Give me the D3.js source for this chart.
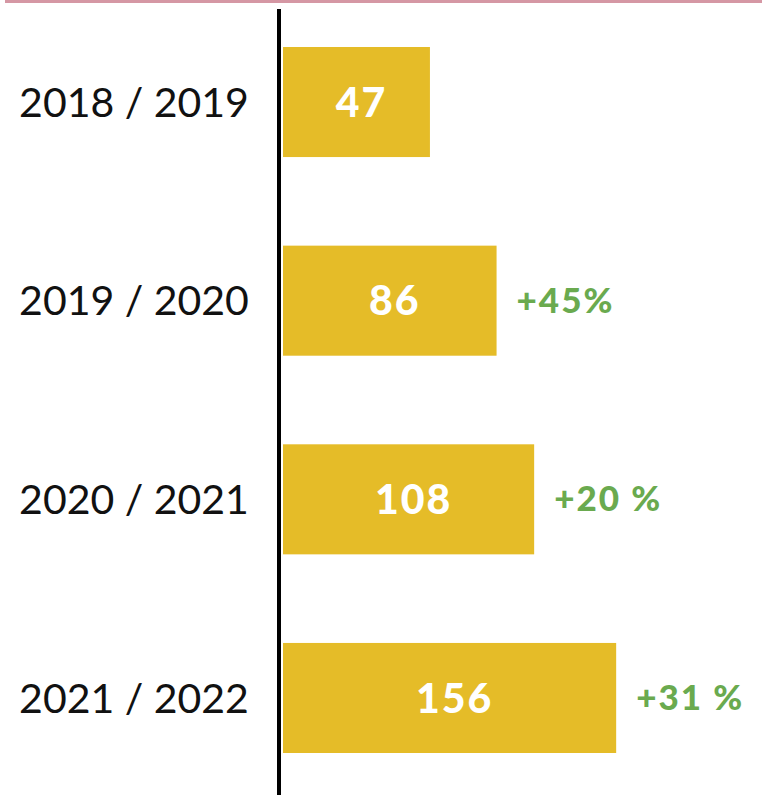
<!DOCTYPE html>
<html><head><meta charset="utf-8">
<script src="https://cdn.jsdelivr.net/npm/d3@7"></script>
<style>html,body{margin:0;padding:0;background:#fff;}svg{display:block;}</style>
</head><body>
<script>
const categories = ["2018 / 2019", "2019 / 2020", "2020 / 2021", "2021 / 2022"];
const values = [47, 86, 108, 156];
const changes = ["", "+45%", "+20 %", "+31 %"];

const W = 762, H = 795;
const svg = d3.select("body").append("svg").attr("width", W).attr("height", H);

const x = d3.scaleLinear().domain([-39, 160]).range([283, 623]);
const y = d3.scaleBand().domain(categories).range([47, 753]).paddingInner(0.446).paddingOuter(0);

// top pink rule
svg.append("rect").attr("x", 5).attr("y", 0).attr("width", W - 5).attr("height", 3).attr("fill", "#d597a4");

// bars
svg.selectAll("rect.bar").data(values).join("rect").attr("class", "bar")
  .attr("x", x(-39))
  .attr("y", (d, i) => y(categories[i]))
  .attr("width", d => x(d) - x(-39))
  .attr("height", y.bandwidth())
  .attr("fill", "#e5bc28");

// axis line
svg.append("rect").attr("x", 277).attr("y", 9).attr("width", 4).attr("height", H - 9).attr("fill", "#000");

// category labels
svg.selectAll("text.cat").data(categories).join("text").attr("class", "cat")
  .attr("x", 134)
  .attr("y", d => y(d) + y.bandwidth() / 2)
  .attr("dy", "0.36em")
  .attr("text-anchor", "middle")
  .attr("font-family", "Lato, sans-serif")
  .attr("font-size", 41)
  .attr("fill", "#111")
  .text(d => d);

// value labels
svg.selectAll("text.val").data(values).join("text").attr("class", "val")
  .attr("x", d => (x(-39) + x(d)) / 2 + 5)
  .attr("y", (d, i) => y(categories[i]) + y.bandwidth() / 2)
  .attr("dy", "0.36em")
  .attr("text-anchor", "middle")
  .attr("font-family", "Lato, sans-serif")
  .attr("font-weight", 900)
  .attr("font-size", 41)
  .attr("letter-spacing", 2)
  .attr("fill", "#fff")
  .text(d => d);

// change labels
svg.selectAll("text.chg").data(changes).join("text").attr("class", "chg")
  .attr("x", (d, i) => x(values[i]) + 20)
  .attr("y", (d, i) => y(categories[i]) + y.bandwidth() / 2)
  .attr("dy", "0.34em")
  .attr("font-family", "Lato, sans-serif")
  .attr("font-weight", 900)
  .attr("font-size", 35)
  .attr("letter-spacing", 2)
  .attr("fill", "#6aaa4f")
  .text(d => d);
</script>
</body></html>
